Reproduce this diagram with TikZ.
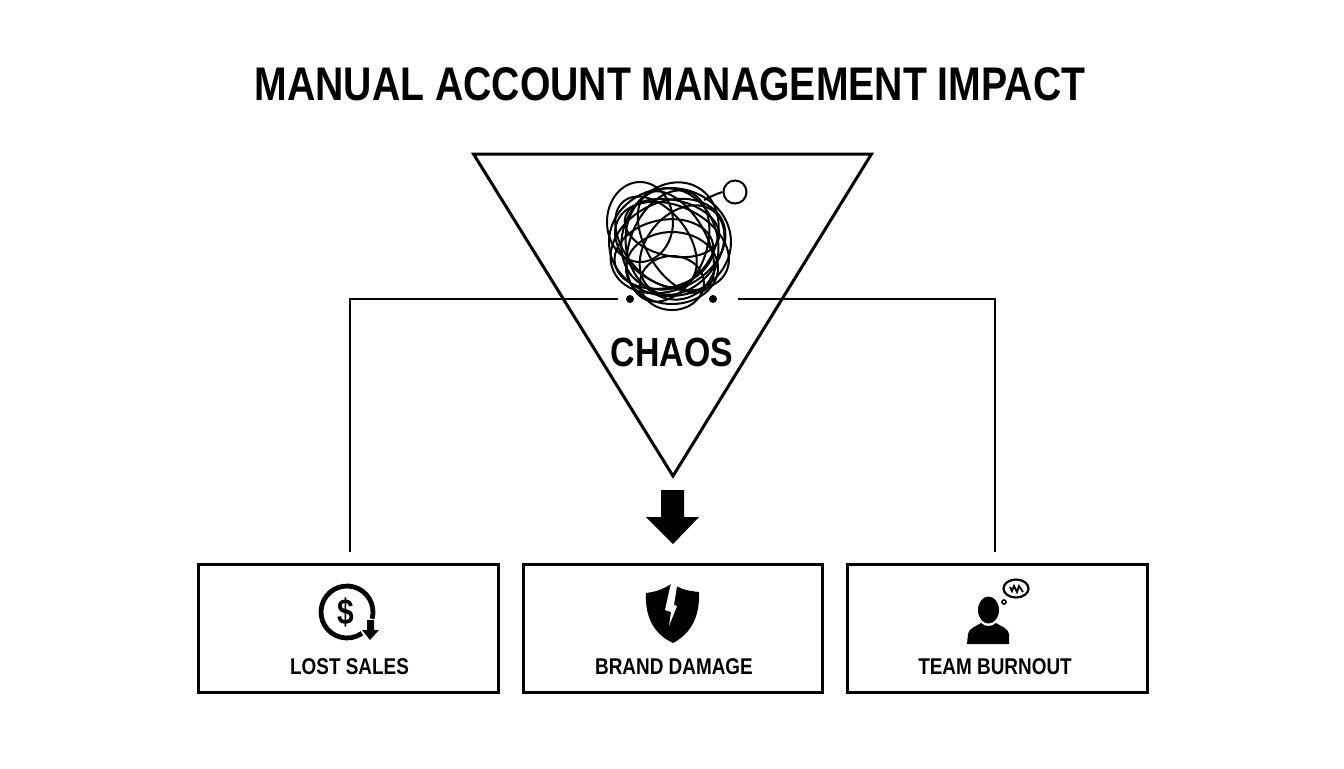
\documentclass[tikz,border=0pt]{standalone}
\usepackage{fontspec}
\setmainfont{Liberation Sans}
\newfontfamily\narrowbold[FakeStretch=0.83]{Liberation Sans Bold}
\usetikzlibrary{arrows.meta,positioning,fit}

\begin{document}
\begin{tikzpicture}[x=0.5pt, y=-0.5pt,
  every node/.append style={align=center, inner sep=0pt, text=black},
  box/.style={draw, line width=1.5pt, minimum width=150pt, minimum height=64pt},
  link/.style={line width=1pt},
  heading/.style={font=\narrowbold\fontsize{23.6}{28}\selectfont},
  chaoslabel/.style={font=\narrowbold\fontsize{20.4}{24}\selectfont},
  boxlabel/.style={font=\narrowbold\fontsize{11.4}{14}\selectfont},
  knot/.style={line width=1pt}]
 \useasboundingbox (0,0) rectangle (1344,768);
 \node [heading] (title) at (670,84) {MANUAL ACCOUNT MANAGEMENT IMPACT};

 % funnel
 \coordinate (fa) at (473.5,154);
 \coordinate (fb) at (871.5,154);
 \coordinate (fc) at (673,476);
 \draw [line width=1.5pt, line join=miter] (fa) -- (fb) -- (fc) -- cycle;
 \node [chaoslabel] (chaos) at (672,352) {CHAOS};

 % tangle: cx/cy/rx/ry/rotation
 \foreach \cx/\cy/\rx/\ry/\rot in {
   670/242/61/54/0, 668/246/60/44/25, 672/246/60/40/-25, 672/244/46/56/12,
   668/246/38/58/-22, 676/242/30/56/30, 664/254/50/34/12, 672/228/48/28/-12,
   682/250/36/50/-40, 656/242/32/52/38, 640/222/33/40/0, 672/268/46/36/0,
   672/283/32/27/0, 670/236/56/46/60}
   {\draw [knot, shift={(\cx,\cy)}, rotate=\rot] (0,0) ellipse [x radius=\rx, y radius=\ry];}
 \node [draw, circle, line width=1pt, minimum size=11.5pt] (loose) at (735,192) {};
 \draw [knot] (loose.west) .. controls (716,194) and (712,196) .. (704,200);
 \node [fill, circle, minimum size=4pt] (dotl) at (630,299) {};
 \node [fill, circle, minimum size=4pt] (dotr) at (713,299) {};

 % connectors
 \coordinate (ll) at (618,299);
 \coordinate (lc) at (350,299);
 \coordinate (le) at (350,552);
 \coordinate (rl) at (738,299);
 \coordinate (rc) at (995,299);
 \coordinate (re) at (995,552);
 \draw [link] (ll) -- (lc) -- (le);
 \draw [link] (rl) -- (rc) -- (re);

 % block arrow
 \fill (661,490) -- (684,490) -- (684,517) -- (699,517) -- (673,544)
       -- (646,517) -- (661,517) -- cycle;

 % boxes
 \node [box] (lost)    at (348,628) {};
 \node [box, minimum width=149.5pt] (brand) at (672.5,628) {};
 \node [box] (burnout) at (997,628) {};
 \node [boxlabel] (lostl)    at (349.5,667) {LOST SALES};
 \node [boxlabel] (brandl)   at (674,667)   {BRAND DAMAGE};
 \node [boxlabel] (burnoutl) at (995,667)   {TEAM BURNOUT};

 % lost sales icon
 \draw [line width=2.4pt] (347,612) ++(15:26) arc [start angle=15, end angle=-305, radius=26];
 \node [font=\narrowbold\fontsize{18}{20}\selectfont] (dollar) at (346,612) {\$};
 \fill (367,620) -- (374,620) -- (374,630) -- (379,630) -- (370,640)
       -- (362,630) -- (367,630) -- cycle;

 % shield icon
 \fill (671,584) .. controls (662,590) and (654,592) .. (646,593)
       .. controls (645,615) and (652,633) .. (673,643)
       .. controls (692,633) and (700,615) .. (699,592)
       .. controls (690,591) and (682,590) .. (675,585) -- cycle;
 \fill [white] (671,583) -- (677,586) -- (674,605) -- (677,606) -- (669,626)
       -- (671,612) -- (665,610) -- cycle;

 % person icon
 \fill (988.5,610) ellipse [x radius=10.5, y radius=13.5];
 \fill (967,644) -- (968,634) .. controls (969,628) and (975,627) .. (981,623)
       .. controls (985,627) and (992,627) .. (996,623)
       .. controls (1002,627) and (1008,628) .. (1009,634) -- (1009,644) -- cycle;
 \draw [line width=1.1pt] (1016,588.5) ellipse [x radius=12.5, y radius=9];
 \draw [line width=.8pt] (1004,602) circle [radius=2];
 \draw [line width=.9pt] (1010,587) -- (1012,591) -- (1014,586) -- (1017,592)
       -- (1019,586) -- (1023,592);
\end{tikzpicture}
\end{document}
